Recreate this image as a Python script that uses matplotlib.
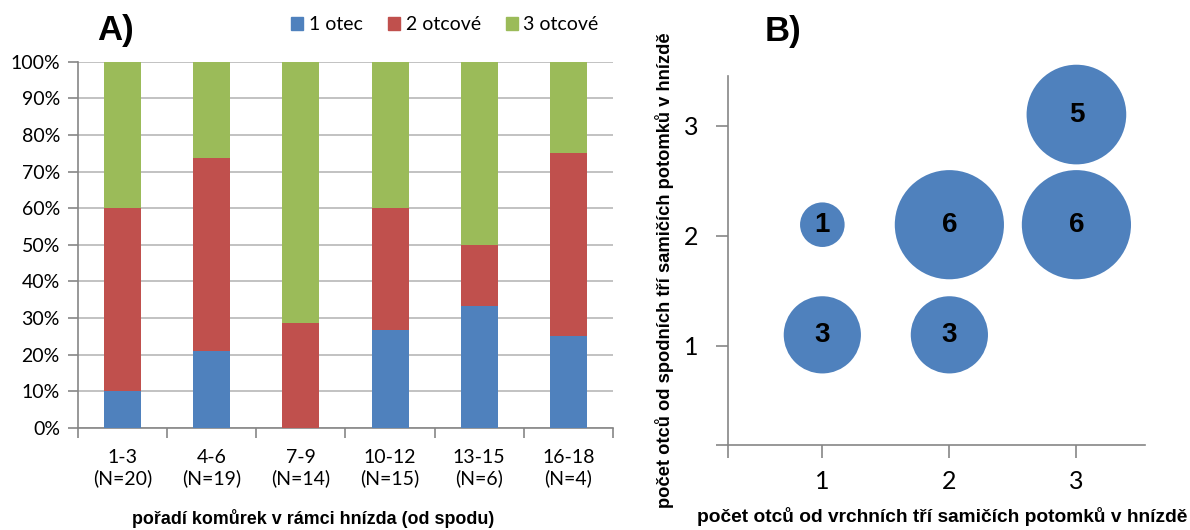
import numpy as np
import matplotlib.pyplot as plt
from matplotlib.patches import Patch

# panel A - share of nests by number of fathers (%)
kategorie = ['1-3\n(N=20)', '4-6\n(N=19)', '7-9\n(N=14)', '10-12\n(N=15)', '13-15\n(N=6)', '16-18\n(N=4)']
jeden_otec = [10.0, 21.05, 0.0, 26.67, 33.33, 25.0]
dva_otcove = [50.0, 52.63, 28.57, 33.33, 16.67, 50.0]
tri_otcove = [40.0, 26.32, 71.43, 40.0, 50.0, 25.0]
nazvy = ['1 otec', '2 otcové', '3 otcové']

# panel B - bubbles
bx = [1, 2, 3, 1, 2, 3]
by = [1.1, 1.1, 2.1, 2.1, 2.1, 3.1]
bn = [3, 3, 6, 1, 6, 5]

modra = '#4f81bd'
cervena = '#c0504d'
zelena = '#9bbb59'
seda = '#868686'
cal = ['Lato', 'DejaVu Sans']
ari = ['Liberation Sans', 'DejaVu Sans']

fig = plt.figure(figsize=(11.9, 5.3), dpi=100)

# ---------- A ----------
ax = fig.add_axes([0.0655, 0.1925, 0.4496, 0.6911])
x = np.arange(len(kategorie))
w = 0.415
ax.bar(x, jeden_otec, w, color=modra, zorder=3)
ax.bar(x, dva_otcove, w, bottom=jeden_otec, color=cervena, zorder=3)
spodek = np.array(jeden_otec) + np.array(dva_otcove)
ax.bar(x, tri_otcove, w, bottom=spodek, color=zelena, zorder=3)

ax.set_xlim(-0.5, len(kategorie) - 0.5)
ax.set_ylim(0, 100)
ax.set_yticks(np.arange(0, 101, 10))
ax.set_yticklabels([f'{v}%' for v in range(0, 101, 10)], family=cal, fontsize=14)
ax.yaxis.grid(True, color='#b8b8b8', linewidth=1.2, zorder=0)
ax.set_xticks(np.arange(-0.5, len(kategorie), 1))
ax.set_xticklabels([])
ax.set_xticks(x, minor=True)
ax.set_xticklabels(kategorie, minor=True, family=cal, fontsize=14, linespacing=1.25)
ax.tick_params(axis='x', which='minor', length=0, pad=15)
ax.tick_params(axis='x', which='major', length=7, color=seda, width=1.2)
ax.tick_params(axis='y', length=7, color=seda, width=1.2, pad=6)
for s in ['top', 'right']:
    ax.spines[s].set_visible(False)
for s in ['left', 'bottom']:
    ax.spines[s].set_color(seda)
    ax.spines[s].set_linewidth(1.2)

fig.text(313 / 1190, 1 - 518 / 530, 'pořadí komůrek v rámci hnízda (od spodu)', family=ari,
         fontweight='bold', fontsize=12.9, ha='center', va='center')

fig.text(0.097, 0.943, 'A)', family=ari, fontweight='bold', fontsize=25, ha='center', va='center')
handles = [Patch(color=c) for c in [modra, cervena, zelena]]
fig.legend(handles, nazvy, loc='center', bbox_to_anchor=(0.374, 0.953), ncol=3, frameon=False,
           handlelength=0.6, handleheight=0.6, handletextpad=0.3, columnspacing=1.3,
           prop={'family': cal, 'size': 14})

# ---------- B ----------
bx_ax = fig.add_axes([0.6115, 0.1604, 0.3507, 0.6962])
bx_ax.scatter(bx, by, s=np.array(bn) * 1030, color=modra, edgecolors='none', zorder=3, clip_on=False)
for xi, yi, n in zip(bx, by, bn):
    bx_ax.text(xi, yi, str(n), ha='center', va='center', family=ari, fontweight='bold', fontsize=20, zorder=4)
bx_ax.set_xlim(0.255, 3.54)
bx_ax.set_ylim(0.1, 3.45)
bx_ax.set_xticks([0.255, 1, 2, 3])
bx_ax.set_xticklabels(['', '1', '2', '3'], family=cal, fontsize=18)
bx_ax.set_yticks([0.1, 1, 2, 3])
bx_ax.set_yticklabels(['', '1', '2', '3'], family=cal, fontsize=18)
bx_ax.tick_params(axis='x', length=9, color=seda, width=1.2, pad=9)
bx_ax.tick_params(axis='y', length=9, color=seda, width=1.2, pad=12)
for s in ['top', 'right']:
    bx_ax.spines[s].set_visible(False)
for s in ['left', 'bottom']:
    bx_ax.spines[s].set_color(seda)
    bx_ax.spines[s].set_linewidth(1.2)
fig.text(942 / 1190, 1 - 517 / 530, 'počet otců od vrchních tří samičích potomků v hnízdě', family=ari,
         fontweight='bold', fontsize=13.8, ha='center', va='center')
fig.text(665 / 1190, 1 - 270 / 530, 'počet otců od spodních tří samičích potomků v hnízdě', family=ari,
         fontweight='bold', fontsize=13.2, ha='center', va='center', rotation=90)
fig.text(0.658, 0.94, 'B)', family=ari, fontweight='bold', fontsize=25, ha='center', va='center')

fig.savefig('out.png', dpi=100)
